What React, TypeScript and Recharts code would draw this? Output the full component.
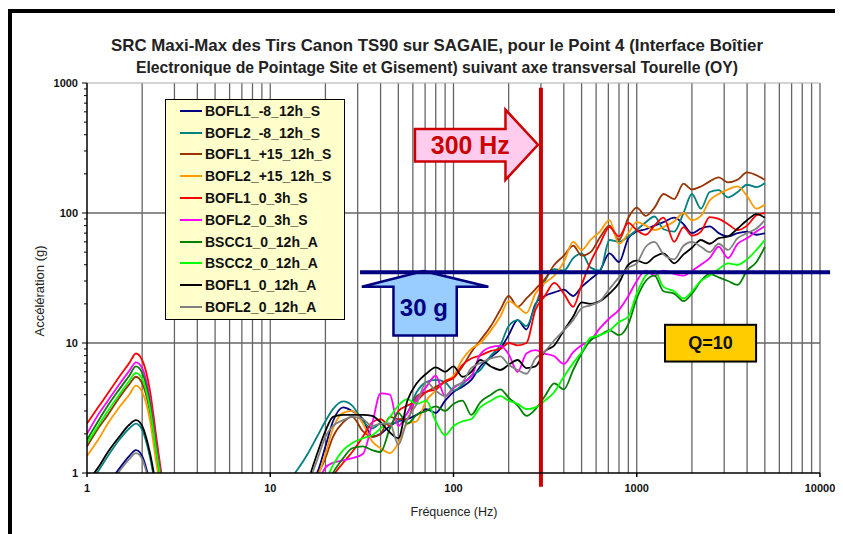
import React from "react";
import {
  CartesianGrid,
  Legend,
  Line,
  LineChart,
  ReferenceArea,
  ReferenceLine,
  XAxis,
  YAxis,
} from "recharts";

const FONT = "'Liberation Sans', Arial, sans-serif";

// fréquences (Hz) : bosse basse fréquence, puis bande 12 Hz - 5 kHz
const FREQ = [
  1, 1.15, 1.3, 1.5, 1.7, 1.85, 2.0, 2.2, 2.4, 2.6, 2.9,
  12, 14, 16, 18, 20, 22, 25, 28, 32, 36, 40, 45, 50, 56, 63, 71, 80, 90, 100, 112,
  125, 140, 160, 180, 200, 224, 250, 280, 315, 355, 400, 450, 500, 560, 630, 710,
  800, 900, 1000, 1120, 1250, 1400, 1600, 1800, 2000, 2240, 2500, 2800, 3150, 3550,
  4000, 4500, 5000,
];

// accélérations (g), une valeur par fréquence
const BOFL1_M8 = [
  0.5, 0.65, 0.82, 1.08, 1.35, 1.5, 1.35, 0.85, 0.45, 0.3, 0.2,
  0.5, 0.65, 0.85, 1.0, 1.6, 2.5, 3.2, 3.0, 2.6, 1.9, 2.0, 2.3, 2.5, 2.6, 2.8, 3.1,
  2.9, 3.6, 4.2, 4.6, 5.2, 6.6, 7.8, 9.0, 11.5, 15, 12.7, 20, 23, 24.5, 25.7, 23, 27,
  31, 36, 49, 42, 64, 72, 75, 80, 85, 92, 82, 70, 76, 79, 70, 66, 70, 72, 68, 70,
];
const BOFL2_M8 = [
  0.8, 1.03, 1.35, 1.8, 2.2, 2.4, 2.15, 1.35, 0.7, 0.4, 0.2,
  0.8, 1.05, 1.4, 1.9, 2.5, 3.1, 3.55, 3.3, 2.5, 2.2, 2.4, 2.4, 2.5, 2.9, 4.2, 5.0,
  5.2, 5.0, 4.3, 4.8, 5.6, 6.2, 8.0, 9.6, 13.5, 15, 13.5, 19.5, 30, 37, 36, 45, 49,
  38, 36, 62, 60, 66, 74, 85, 94, 75, 72, 100, 140, 108, 145, 150, 132, 145, 165, 158, 170,
];
const BOFL1_P15 = [
  1.6, 2.2, 2.8, 3.8, 4.8, 5.5, 4.9, 3.0, 1.3, 0.65, 0.3,
  0.3, 0.45, 0.7, 0.95, 1.3, 1.9, 2.45, 2.7, 2.1, 1.9, 2.0, 2.7, 2.6, 2.6, 3.9, 4.2,
  4.6, 5.0, 5.4, 6.6, 8.5, 10.5, 13.5, 18, 23, 19, 22, 26, 31, 40, 47, 56, 47, 50,
  65, 80, 62, 92, 110, 95, 110, 140, 128, 168, 152, 160, 175, 188, 172, 180, 205, 195, 180,
];
const BOFL2_P15 = [
  1.35, 1.8, 2.4, 3.2, 4.0, 4.7, 4.2, 2.6, 1.15, 0.6, 0.3,
  0.3, 0.45, 0.65, 0.9, 1.4, 2.2, 2.9, 3.0, 2.4, 1.75, 1.55, 1.42, 1.7, 2.4, 2.5, 3.6,
  4.3, 5.1, 5.6, 7.5, 9.0, 10, 12.5, 16, 21, 19, 17, 24, 29, 33, 42, 60, 52, 62, 72,
  88, 58, 70, 85, 80, 74, 78, 86, 100, 88, 95, 125, 140, 152, 160, 135, 108, 116,
];
const BOFL1_3H = [
  2.4, 3.2, 4.1, 5.5, 7.0, 8.3, 7.4, 4.4, 1.8, 0.8, 0.3,
  0.2, 0.3, 0.4, 0.55, 0.75, 0.95, 1.2, 1.45, 1.9, 2.45, 2.6, 2.3, 3.0, 3.3, 3.6, 4.2,
  4.4, 5.1, 5.4, 6.8, 7.6, 8.0, 8.7, 9.0, 10, 9.6, 10, 18, 23, 29, 24, 19, 28, 42, 58,
  78, 66, 84, 74, 68, 80, 92, 60, 78, 67, 72, 93, 90, 82, 74, 80, 96, 100,
];
const BOFL2_3H = [
  2.0, 2.8, 3.6, 4.8, 6.1, 7.1, 6.4, 3.8, 1.6, 0.75, 0.3,
  0.2, 0.3, 0.5, 0.8, 1.1, 1.2, 1.25, 1.3, 1.4, 2.4, 4.1, 4.0, 2.3, 2.9, 3.7, 4.6, 5.6,
  3.9, 4.5, 5.0, 5.5, 8.2, 9.3, 9.5, 8.2, 6.0, 8.3, 8.8, 8.3, 7.9, 6.9, 8.5, 9.6, 10.5,
  13, 15.5, 18, 23, 30, 36, 33, 36, 34, 33, 36, 40, 45, 55, 45, 58, 64, 72, 79,
];
const BSCC1_12H = [
  1.8, 2.5, 3.3, 4.4, 5.6, 6.6, 5.9, 3.5, 1.5, 0.7, 0.3,
  0.1, 0.2, 0.3, 0.5, 0.75, 1.0, 1.3, 1.55, 1.6, 1.5, 1.45, 2.2, 2.9, 2.4, 2.8, 3.0,
  3.25, 3.0, 3.4, 3.6, 2.8, 3.5, 4.0, 4.4, 3.8, 3.3, 2.75, 3.1, 3.9, 4.9, 4.4, 6.2, 8.3,
  10.5, 11.5, 12.5, 11.5, 14, 22, 30, 33, 25, 24, 21, 24, 30, 34, 32, 30, 28, 36, 42, 55,
];
const BSCC2_12H = [
  1.7, 2.3, 3.0, 4.0, 5.1, 5.9, 5.3, 3.2, 1.4, 0.7, 0.3,
  0.1, 0.2, 0.35, 0.55, 0.85, 1.15, 1.5, 1.7, 1.85, 1.95, 2.2, 2.7, 3.3, 3.7, 3.4, 3.6,
  2.5, 1.95, 2.3, 2.5, 2.6, 3.2, 3.6, 3.9, 3.6, 3.4, 3.1, 3.2, 3.6, 4.2, 5.5, 7.0, 8.5,
  11, 11.5, 12.5, 14.5, 16, 24, 33, 36, 27, 25, 22, 25, 30, 33, 37, 41, 40, 44, 52, 62,
];
const BOFL1_12H = [
  0.85, 1.1, 1.45, 1.9, 2.35, 2.55, 2.3, 1.45, 0.75, 0.4, 0.2,
  0.3, 0.5, 0.85, 1.4, 2.1, 2.7, 2.8, 2.8, 2.8, 2.75, 2.45, 2.05, 1.85, 3.6, 4.9, 5.8,
  6.5, 6.0, 6.6, 5.5, 6.0, 7.4, 6.6, 6.2, 6.8, 7.4, 6.4, 6.6, 8.6, 9.6, 12.5, 16, 20.5,
  20, 21, 24, 29, 40, 43, 41, 46, 49, 41, 48, 54, 62, 58, 64, 66, 76, 88, 98, 92,
];
const BOFL2_12H = [
  0.48, 0.62, 0.78, 1.03, 1.28, 1.42, 1.28, 0.8, 0.43, 0.3, 0.2,
  0.3, 0.5, 0.8, 1.25, 1.9, 2.3, 2.55, 2.7, 2.6, 2.3, 2.4, 2.4, 1.65, 2.6, 3.4, 5.0,
  4.3, 3.9, 4.6, 5.0, 6.4, 7.0, 7.6, 7.9, 6.8, 6.2, 5.8, 7.6, 8.6, 10.5, 12.5, 15,
  18.5, 19.5, 21, 26, 32, 38, 41, 55, 60, 48, 44, 56, 60, 55, 50, 58, 52, 64, 70, 76, 88,
];

const SERIES = [
  { key: "s0", name: "BOFL1_-8_12h_S", color: "#000080", values: BOFL1_M8 },
  { key: "s1", name: "BOFL2_-8_12h_S", color: "#008080", values: BOFL2_M8 },
  { key: "s2", name: "BOFL1_+15_12h_S", color: "#993300", values: BOFL1_P15 },
  { key: "s3", name: "BOFL2_+15_12h_S", color: "#ff9900", values: BOFL2_P15 },
  { key: "s4", name: "BOFL1_0_3h_S", color: "#ff0000", values: BOFL1_3H },
  { key: "s5", name: "BOFL2_0_3h_S", color: "#ff00ff", values: BOFL2_3H },
  { key: "s6", name: "BSCC1_0_12h_A", color: "#008000", values: BSCC1_12H },
  { key: "s7", name: "BSCC2_0_12h_A", color: "#00ff00", values: BSCC2_12H },
  { key: "s8", name: "BOFL1_0_12h_A", color: "#000000", values: BOFL1_12H },
  { key: "s9", name: "BOFL2_0_12h_A", color: "#808080", values: BOFL2_12H },
];

const X_TICKS = [1, 10, 100, 1000, 10000];
const Y_MAJOR = [1, 10, 100, 1000];

// graduations secondaires 1..9 x 10^k
const minorSteps = (decades: number[]) => {
  const out: number[] = [];
  decades.forEach((d) => {
    for (let m = 1; m <= 9; m++) out.push(m * d);
  });
  return out;
};
const GRID_X = [...minorSteps([1, 10, 100, 1000]), 10000].filter((v) => v > 1);
const Y_TICKS = [...minorSteps([1, 10, 100]), 1000];

const data = FREQ.map((f, i) => {
  const row: Record<string, number> = { f };
  SERIES.forEach((s) => {
    row[s.key] = s.values[i];
  });
  return row;
});

const YTick = (props: any) => {
  const { x, y, payload } = props;
  const major = Y_MAJOR.includes(payload.value);
  return (
    <g>
      <line x1={x - (major ? 5 : 3)} x2={x} y1={y} y2={y} stroke="#000" strokeWidth={1} />
      {major && (
        <text x={x - 9} y={y} dy={4} textAnchor="end" fontSize={11} fontWeight="bold" fill="#111" fontFamily={FONT}>
          {payload.value}
        </text>
      )}
    </g>
  );
};

const PinkArrow = (p: any) => {
  const { x, y, width: w, height: h } = p;
  const bx = x + 0.736 * w;
  const pts = [
    [x, y + 0.276 * h],
    [bx, y + 0.276 * h],
    [bx, y],
    [x + w, y + 0.5 * h],
    [bx, y + h],
    [bx, y + 0.739 * h],
    [x, y + 0.739 * h],
  ];
  return (
    <g>
      <polygon points={pts.map((q) => q.join(",")).join(" ")} fill="#ffccee" stroke="#cc0000" strokeWidth={2.5} />
      <text
        x={x + 0.45 * w}
        y={y + 0.5 * h + 9}
        textAnchor="middle"
        fontSize={25}
        fontWeight="bold"
        fill="#cc0000"
        fontFamily={FONT}
        textLength={79}
        lengthAdjust="spacingAndGlyphs"
      >
        300 Hz
      </text>
    </g>
  );
};

const BlueArrow = (p: any) => {
  const { x, y, width: w, height: h } = p;
  const hy = y + 0.243 * h;
  const pts = [
    [x + 0.487 * w, y],
    [x + w, hy],
    [x + 0.75 * w, hy],
    [x + 0.75 * w, y + h],
    [x + 0.25 * w, y + h],
    [x + 0.25 * w, hy],
    [x, hy],
  ];
  return (
    <g>
      <polygon points={pts.map((q) => q.join(",")).join(" ")} fill="#99ccff" stroke="#000080" strokeWidth={2.5} />
      <text x={x + 0.49 * w} y={y + 0.55 * h + 9} textAnchor="middle" fontSize={24} fontWeight="bold" fill="#000080" fontFamily={FONT}>
        30 g
      </text>
    </g>
  );
};

const QBox = (p: any) => {
  const { x, y, width: w, height: h } = p;
  return (
    <g>
      <rect x={x} y={y} width={w} height={h} fill="#ffcc00" stroke="#000" strokeWidth={2} />
      <text x={x + w / 2} y={y + h / 2 + 6} textAnchor="middle" fontSize={18} fontWeight="bold" fill="#111" fontFamily={FONT}>
        Q=10
      </text>
    </g>
  );
};

const LegendBox = () => (
  <div
    style={{
      width: 180,
      height: 221,
      boxSizing: "border-box",
      border: "1.5px solid #000",
      background: "#ffffcc",
      fontFamily: FONT,
    }}
  >
    {SERIES.map((s) => (
      <div key={s.key} style={{ height: 21.8, display: "flex", alignItems: "center" }}>
        <div style={{ marginLeft: 14, width: 22, height: 2, background: s.color }} />
        <span style={{ marginLeft: 3, fontSize: 14, fontWeight: "bold", color: "#111", whiteSpace: "nowrap" }}>{s.name}</span>
      </div>
    ))}
  </div>
);

export default function App() {
  return (
    <div style={{ position: "relative", width: 835, height: 526, background: "#fff" }}>
      <div style={{ position: "absolute", left: 0, top: 1, width: 835, height: 4, background: "#000" }} />
      <div style={{ position: "absolute", left: 0, top: 1, width: 4, height: 525, background: "#000" }} />
      <div style={{ position: "absolute", left: 0, top: 0 }}>
        <LineChart width={835} height={526} data={data} margin={{ top: 75, right: 23, left: 19, bottom: 31 }}>
          <CartesianGrid
            stroke="#666"
            strokeWidth={1.3}
            verticalValues={GRID_X}
            horizontalValues={[10, 100]}
          />
          <ReferenceLine y={1000} stroke="#aaa" strokeWidth={1} />
          <XAxis
            dataKey="f"
            type="number"
            scale="log"
            domain={[1, 10000]}
            allowDataOverflow
            ticks={X_TICKS}
            interval={0}
            height={30}
            tickSize={4}
            tickMargin={7}
            stroke="#000"
            strokeWidth={1.5}
            tick={{ fontSize: 11, fontWeight: "bold", fill: "#111", fontFamily: FONT }}
          />
          <YAxis
            type="number"
            scale="log"
            domain={[1, 1000]}
            allowDataOverflow
            ticks={Y_TICKS}
            interval={0}
            width={60}
            tickSize={0}
            tickMargin={0}
            tickLine={false}
            stroke="#000"
            strokeWidth={1.5}
            tick={<YTick />}
          />
          {SERIES.map((s) => (
            <Line
              key={s.key}
              dataKey={s.key}
              name={s.name}
              type="monotone"
              stroke={s.color}
              strokeWidth={1.8}
              dot={false}
              isAnimationActive={false}
            />
          ))}
          <ReferenceLine
            segment={[{ x: 300, y: 0.785 }, { x: 300, y: 920 }]}
            stroke="#cc0000"
            strokeWidth={4}
            ifOverflow="visible"
          />
          <ReferenceLine
            segment={[{ x: 30.9, y: 35 }, { x: 11350, y: 35 }]}
            stroke="#000080"
            strokeWidth={4}
            ifOverflow="visible"
          />
          <ReferenceArea x1={61.6} x2={289} y1={180} y2={623} shape={PinkArrow} ifOverflow="visible" />
          <ReferenceArea x1={31.6} x2={155} y1={11.4} y2={35.8} shape={BlueArrow} ifOverflow="visible" />
          <ReferenceArea x1={1426} x2={4480} y1={7.2} y2={13.8} shape={QBox} ifOverflow="visible" />
          <Legend
            layout="vertical"
            align="center"
            verticalAlign="middle"
            content={() => <LegendBox />}
            wrapperStyle={{ left: 157, top: 91, width: 180 }}
          />
        </LineChart>
      </div>
      <svg
        width={835}
        height={526}
        style={{ position: "absolute", left: 0, top: 0, pointerEvents: "none" }}
        fontFamily={FONT}
      >
        <text x={429} y={43} textAnchor="middle" fontSize={17} fontWeight="bold" fill="#222" textLength={652} lengthAdjust="spacingAndGlyphs">
          SRC Maxi-Max des Tirs Canon TS90 sur SAGAIE, pour le Point 4 (Interface Boîtier
        </text>
        <text x={429} y={65} textAnchor="middle" fontSize={17} fontWeight="bold" fill="#222" textLength={602} lengthAdjust="spacingAndGlyphs">
          Electronique de Pointage Site et Gisement) suivant axe transversal Tourelle (OY)
        </text>
        <text x={446} y={508} textAnchor="middle" fontSize={12.5} fill="#222">
          Fréquence (Hz)
        </text>
        <text x={36} y={283} textAnchor="middle" fontSize={13} fill="#222" transform="rotate(-90 36 283)">
          Accélération (g)
        </text>
      </svg>
    </div>
  );
}
